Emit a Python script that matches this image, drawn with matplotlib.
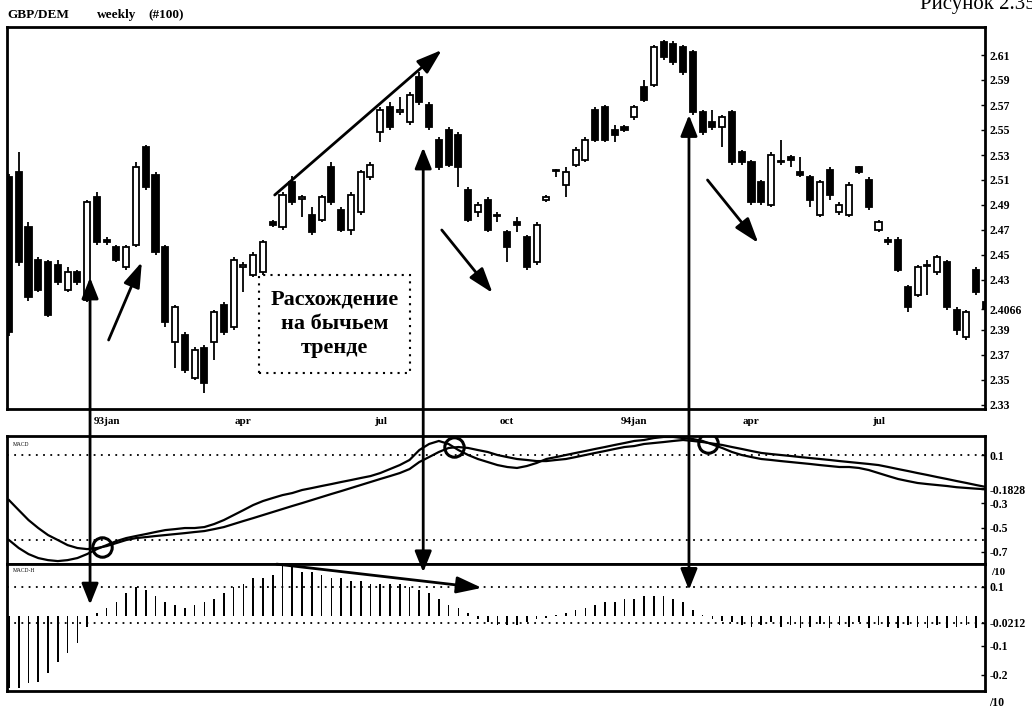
import matplotlib
matplotlib.use("Agg")
import matplotlib.pyplot as plt
from matplotlib.patches import Rectangle, ConnectionPatch, ArrowStyle
import numpy as np

plt.rcParams["font.family"] = ["Liberation Serif", "DejaVu Serif"]

# ---- weekly GBP/DEM candles ----
opens = [2.512, 2.516, 2.472, 2.446, 2.444, 2.442, 2.422, 2.436, 2.414, 2.496,
         2.462, 2.456, 2.440, 2.458, 2.536, 2.514, 2.456, 2.380, 2.386, 2.352,
         2.376, 2.380, 2.410, 2.392, 2.440, 2.434, 2.436, 2.476, 2.472, 2.508,
         2.495, 2.482, 2.478, 2.520, 2.486, 2.470, 2.484, 2.512, 2.548, 2.568,
         2.564, 2.556, 2.592, 2.570, 2.542, 2.550, 2.546, 2.502, 2.484, 2.494,
         2.482, 2.468, 2.476, 2.464, 2.444, 2.494, 2.518, 2.506, 2.522, 2.526,
         2.566, 2.568, 2.550, 2.552, 2.560, 2.584, 2.586, 2.620, 2.619, 2.616,
         2.612, 2.564, 2.556, 2.552, 2.564, 2.532, 2.524, 2.508, 2.490, 2.524,
         2.528, 2.516, 2.512, 2.482, 2.518, 2.484, 2.482, 2.520, 2.510, 2.470,
         2.462, 2.462, 2.424, 2.418, 2.442, 2.436, 2.444, 2.406, 2.384, 2.438,
         2.412]
highs = [2.515, 2.532, 2.476, 2.448, 2.446, 2.446, 2.440, 2.438, 2.494, 2.500,
         2.464, 2.458, 2.458, 2.524, 2.538, 2.516, 2.458, 2.410, 2.388, 2.376,
         2.378, 2.406, 2.412, 2.448, 2.444, 2.452, 2.462, 2.478, 2.500, 2.513,
         2.498, 2.488, 2.498, 2.524, 2.488, 2.500, 2.518, 2.524, 2.568, 2.572,
         2.576, 2.580, 2.596, 2.572, 2.544, 2.552, 2.548, 2.504, 2.492, 2.496,
         2.484, 2.470, 2.480, 2.466, 2.476, 2.498, 2.519, 2.520, 2.536, 2.544,
         2.568, 2.570, 2.554, 2.554, 2.570, 2.590, 2.618, 2.622, 2.621, 2.618,
         2.614, 2.566, 2.566, 2.562, 2.566, 2.534, 2.526, 2.510, 2.532, 2.542,
         2.530, 2.528, 2.514, 2.510, 2.520, 2.492, 2.508, 2.521, 2.512, 2.478,
         2.464, 2.464, 2.426, 2.442, 2.446, 2.450, 2.446, 2.408, 2.406, 2.440,
         2.414]
lows = [2.385, 2.441, 2.413, 2.420, 2.400, 2.426, 2.420, 2.426, 2.412, 2.458,
        2.458, 2.444, 2.438, 2.456, 2.502, 2.450, 2.392, 2.360, 2.356, 2.350,
        2.340, 2.366, 2.386, 2.390, 2.420, 2.432, 2.434, 2.472, 2.470, 2.490,
        2.480, 2.466, 2.476, 2.490, 2.468, 2.466, 2.482, 2.510, 2.540, 2.550,
        2.562, 2.554, 2.570, 2.550, 2.518, 2.520, 2.504, 2.476, 2.480, 2.468,
        2.476, 2.444, 2.468, 2.438, 2.442, 2.492, 2.512, 2.496, 2.520, 2.524,
        2.540, 2.540, 2.540, 2.548, 2.558, 2.572, 2.584, 2.606, 2.602, 2.594,
        2.562, 2.546, 2.550, 2.536, 2.522, 2.522, 2.490, 2.490, 2.488, 2.522,
        2.520, 2.512, 2.488, 2.480, 2.494, 2.482, 2.480, 2.515, 2.486, 2.468,
        2.458, 2.436, 2.404, 2.416, 2.418, 2.434, 2.406, 2.386, 2.382, 2.418,
        2.396]
closes = [2.388, 2.444, 2.416, 2.422, 2.402, 2.428, 2.436, 2.428, 2.492, 2.460,
          2.460, 2.446, 2.456, 2.520, 2.504, 2.452, 2.396, 2.408, 2.358, 2.374,
          2.348, 2.404, 2.388, 2.446, 2.442, 2.450, 2.460, 2.474, 2.498, 2.492,
          2.496, 2.468, 2.496, 2.492, 2.470, 2.498, 2.516, 2.522, 2.566, 2.552,
          2.566, 2.578, 2.572, 2.552, 2.520, 2.522, 2.520, 2.478, 2.490, 2.470,
          2.481, 2.456, 2.474, 2.440, 2.474, 2.496, 2.517, 2.516, 2.534, 2.542,
          2.542, 2.542, 2.546, 2.550, 2.568, 2.574, 2.616, 2.608, 2.604, 2.596,
          2.564, 2.548, 2.552, 2.560, 2.524, 2.524, 2.492, 2.492, 2.530, 2.525,
          2.526, 2.514, 2.494, 2.508, 2.498, 2.490, 2.506, 2.516, 2.488, 2.476,
          2.460, 2.438, 2.408, 2.440, 2.441, 2.448, 2.408, 2.390, 2.404, 2.420,
          2.4066]

# ---- MACD (fast line) and its signal line ----
macd = [-0.602, -0.668, -0.718, -0.751, -0.768, -0.776, -0.768, -0.751, -0.718, -0.677,
        -0.644, -0.611, -0.586, -0.569, -0.553, -0.536, -0.520, -0.512, -0.503, -0.503,
        -0.495, -0.470, -0.437, -0.396, -0.355, -0.313, -0.280, -0.255, -0.231, -0.214,
        -0.189, -0.173, -0.156, -0.140, -0.123, -0.107, -0.090, -0.074, -0.049, -0.016,
        0.017, 0.059, 0.141, 0.191, 0.216, 0.191, 0.141, 0.100, 0.067, 0.042,
        0.017, 0.001, -0.007, 0.009, 0.034, 0.067, 0.083, 0.100, 0.117, 0.133,
        0.150, 0.166, 0.183, 0.199, 0.216, 0.224, 0.240, 0.249, 0.249, 0.240,
        0.232, 0.216, 0.187, 0.158, 0.125, 0.100, 0.083, 0.067, 0.059, 0.050,
        0.042, 0.034, 0.026, 0.017, 0.009, 0.001, 0.001, -0.007, -0.024, -0.049,
        -0.074, -0.098, -0.115, -0.131, -0.140, -0.148, -0.156, -0.166, -0.172, -0.178,
        -0.1828]
signal = [-0.272, -0.355, -0.437, -0.503, -0.561, -0.602, -0.644, -0.668, -0.677, -0.668,
          -0.652, -0.627, -0.602, -0.586, -0.578, -0.569, -0.561, -0.553, -0.545, -0.536,
          -0.528, -0.512, -0.495, -0.470, -0.445, -0.421, -0.396, -0.371, -0.346, -0.321,
          -0.297, -0.272, -0.247, -0.222, -0.198, -0.173, -0.148, -0.123, -0.098, -0.074,
          -0.049, -0.016, 0.042, 0.083, 0.125, 0.158, 0.166, 0.158, 0.141, 0.125,
          0.100, 0.083, 0.067, 0.059, 0.050, 0.050, 0.059, 0.067, 0.083, 0.100,
          0.117, 0.133, 0.150, 0.166, 0.174, 0.191, 0.199, 0.207, 0.216, 0.224,
          0.216, 0.207, 0.195, 0.183, 0.166, 0.150, 0.133, 0.117, 0.108, 0.100,
          0.092, 0.083, 0.075, 0.067, 0.059, 0.050, 0.042, 0.034, 0.026, 0.017,
          0.001, -0.016, -0.032, -0.049, -0.065, -0.082, -0.098, -0.115, -0.131, -0.148,
          -0.164]

# ---- MACD histogram ----
hist = [-0.244, -0.244, -0.227, -0.225, -0.193, -0.156, -0.125, -0.091, -0.036, 0.010,
        0.030, 0.050, 0.080, 0.100, 0.090, 0.070, 0.050, 0.040, 0.030, 0.040,
        0.050, 0.060, 0.080, 0.100, 0.110, 0.130, 0.130, 0.140, 0.170, 0.170,
        0.150, 0.150, 0.140, 0.130, 0.130, 0.120, 0.120, 0.110, 0.110, 0.110,
        0.110, 0.100, 0.090, 0.080, 0.060, 0.040, 0.030, 0.010, -0.010, -0.020,
        -0.030, -0.030, -0.030, -0.020, -0.010, -0.005, 0.005, 0.010, 0.020, 0.030,
        0.040, 0.050, 0.050, 0.060, 0.060, 0.070, 0.070, 0.070, 0.060, 0.050,
        0.020, 0.005, -0.010, -0.015, -0.020, -0.030, -0.035, -0.030, -0.020, -0.035,
        -0.030, -0.040, -0.035, -0.025, -0.040, -0.030, -0.035, -0.020, -0.040, -0.030,
        -0.035, -0.040, -0.030, -0.035, -0.040, -0.030, -0.040, -0.035, -0.030, -0.040,
        -0.0212]

month_labels = ["93jan", "apr", "jul", "oct", "94jan", "apr", "jul"]
month_weeks = [10, 24, 38, 51, 64, 76, 89]

price_ticks = [2.61, 2.59, 2.57, 2.55, 2.53, 2.51, 2.49, 2.47, 2.45, 2.43,
               2.4066, 2.39, 2.37, 2.35, 2.33]
macd_ticks = [0.1, -0.1828, -0.3, -0.5, -0.7]
hist_ticks = [0.1, -0.0212, -0.1, -0.2]

# weeks where MACD crossings are circled
crossing_weeks = [9, 45, 71]

# ---------------------------------------------------------------
W, H = 1032, 709
fig = plt.figure(figsize=(W / 100, H / 100), dpi=100)
fig.patch.set_facecolor("white")


def box(l, t, r, b):
    return [l / W, 1 - b / H, (r - l) / W, (b - t) / H]


ax = fig.add_axes(box(7, 27, 985, 409))
axm = fig.add_axes(box(7, 436, 985, 564))
axh = fig.add_axes(box(7, 564, 985, 691))

weeks = np.arange(len(closes))
o = np.array(opens); c = np.array(closes)
hi = np.array(highs); lo = np.array(lows)
rising = c >= o

XL = (-0.2, 99.9)

for a in (ax, axm, axh):
    a.set_xlim(*XL)
    for s in a.spines.values():
        s.set_linewidth(2)
    a.yaxis.tick_right()
    a.tick_params(axis="y", direction="in", length=3, width=1, pad=3,
                  labelsize=8.5)

# candles
ax.vlines(weeks, lo, hi, color="black", lw=1.3, zorder=2)
body_low = np.minimum(o, c)
body_h = np.maximum(np.abs(c - o), 0.0008)
ax.bar(weeks, body_h, bottom=body_low, width=0.62,
       color=np.where(rising, "white", "black"), edgecolor="black",
       linewidth=1.3, zorder=3)
ax.set_ylim(2.3268, 2.6324)
ax.set_yticks(price_ticks)
ax.set_yticklabels([f"{v:g}" for v in price_ticks], fontweight="bold")
ax.set_xticks(month_weeks)
ax.set_xticklabels(month_labels, fontsize=8, fontweight="bold")
ax.tick_params(axis="x", length=0, pad=6)

# MACD panel
axm.plot(weeks, macd, color="black", lw=1.6)
axm.plot(weeks, signal, color="black", lw=1.6)
axm.axhline(0.1, color="black", ls=(0, (1, 3)), lw=1.3)
axm.axhline(-0.6, color="black", ls=(0, (1, 3)), lw=1.3)
axm.set_ylim(-0.80, 0.257)
axm.set_yticks(macd_ticks)
axm.set_yticklabels([f"{v:g}" for v in macd_ticks], fontweight="bold")
axm.set_xticks([])
axm.text(0.006, 0.95, "MACD", transform=axm.transAxes, fontsize=4,
         va="top", ha="left")

d = np.array(macd) - np.array(signal)
for w in crossing_weeks:
    f = d[w] / (d[w] - d[w + 1])
    xc = w + f
    yc = macd[w] + f * (macd[w + 1] - macd[w])
    axm.plot(xc, yc, marker="o", ms=14, mfc="none", mec="black", mew=2.2,
             zorder=5)

# histogram panel
axh.bar(weeks, hist, width=0.17, color="black", zorder=2)
axh.axhline(0.1, color="black", ls=(0, (1, 3)), lw=1.3)
axh.axhline(-0.0212, color="black", ls=(0, (1, 3)), lw=1.3)
axh.set_ylim(-0.2546, 0.1784)
axh.set_yticks(hist_ticks)
axh.set_yticklabels([f"{v:g}" for v in hist_ticks], fontweight="bold")
axh.set_xticks([])
axh.text(0.006, 0.97, "MACD-H", transform=axh.transAxes, fontsize=4,
         va="top", ha="left")
axh.text(1.006, 0.935, "/10", transform=axh.transAxes, fontsize=8,
         fontweight="bold", va="center", ha="left")
axh.text(1.004, -0.095, "/10", transform=axh.transAxes, fontsize=8.5,
         fontweight="bold", va="center", ha="left")

# vertical two-headed links from price to histogram
head = ArrowStyle("<|-|>", head_length=0.8, head_width=0.32)
for (wk, p, hv) in [(8.3, 2.432, 0.04), (42.4, 2.536, 0.15), (69.6, 2.562, 0.09)]:
    cp = ConnectionPatch(xyA=(wk, p), coordsA=ax.transData,
                         xyB=(wk, hv), coordsB=axh.transData,
                         arrowstyle=head, mutation_scale=16, lw=2,
                         color="black", zorder=10)
    fig.add_artist(cp)

one = dict(arrowstyle=ArrowStyle("-|>", head_length=0.9, head_width=0.3),
           mutation_scale=17, lw=2, color="black", shrinkA=0, shrinkB=0)
ax.annotate("", xy=(13.6, 2.4444), xytext=(10.2, 2.382), arrowprops=one)
ax.annotate("", xy=(44.3, 2.614), xytext=(27.2, 2.498), arrowprops=one)
ax.annotate("", xy=(49.5, 2.4196), xytext=(44.3, 2.470), arrowprops=one)
ax.annotate("", xy=(76.7, 2.4596), xytext=(71.5, 2.510), arrowprops=one)
axh.annotate("", xy=(48.4, 0.097), xytext=(27.4, 0.178), arrowprops=one,
             annotation_clip=False)

# note box
ax.add_patch(Rectangle((25.6, 2.3556), 15.4, 0.0784, fill=False,
                       ls=(0, (1, 2.5)), lw=1.5, color="black", zorder=4))
ax.text(33.3, 2.3950, "Расхождение\nна бычьем\nтренде", ha="center",
        va="center", fontsize=16, fontweight="bold", linespacing=1.3,
        zorder=5)

# headings
fig.text(7 / W, 1 - 15 / H, "GBP/DEM", fontsize=9.5, fontweight="bold",
         va="center", ha="left")
fig.text(97 / W, 1 - 15 / H, "weekly", fontsize=9.5, fontweight="bold",
         va="center", ha="left")
fig.text(148 / W, 1 - 15 / H, "(#100)", fontsize=9.5, fontweight="bold",
         va="center", ha="left")
fig.text(1036 / W, 1 - 4 / H, "Рисунок 2.35", fontsize=15, va="center",
         ha="right")

fig.savefig("out.png", dpi=100, facecolor="white")
